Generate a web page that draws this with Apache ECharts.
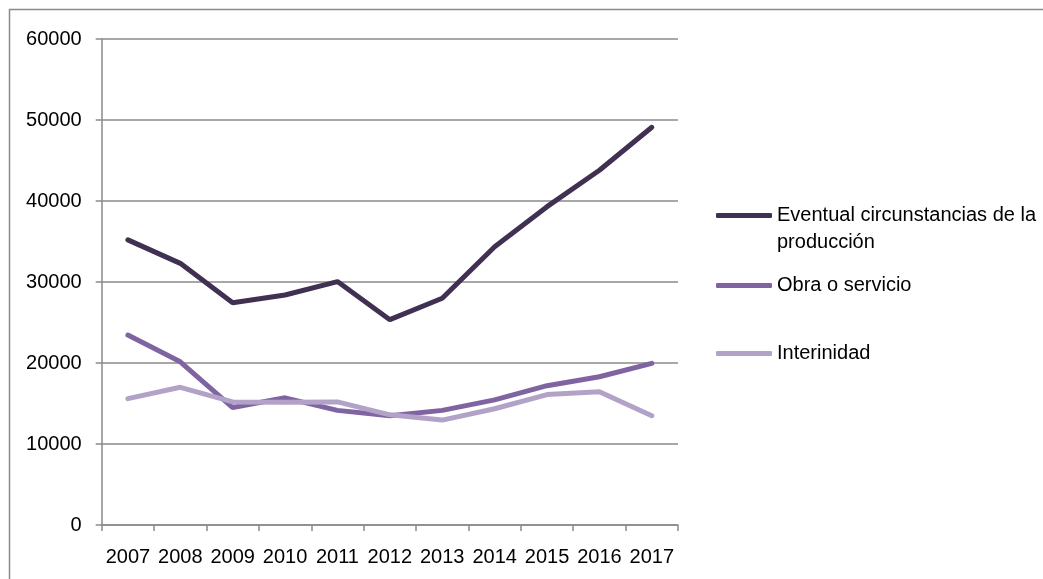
<!DOCTYPE html>
<html>
<head>
<meta charset="utf-8">
<style>
  html, body { margin: 0; padding: 0; background: #ffffff; }
  #chart { width: 1043px; height: 579px; }
</style>
<script src="https://cdn.jsdelivr.net/npm/echarts@6/dist/echarts.min.js"></script>
</head>
<body>
<div id="chart"></div>
<script>
// Contratos temporales por modalidad, 2007-2017
const years = ['2007', '2008', '2009', '2010', '2011', '2012', '2013', '2014', '2015', '2016', '2017'];
const eventual = [35200, 32300, 27450, 28400, 30050, 25350, 28000, 34350, 39300, 43800, 49100];
const obra = [23450, 20150, 14500, 15700, 14150, 13500, 14150, 15450, 17200, 18300, 19950];
const interinidad = [15600, 17000, 15200, 15150, 15200, 13600, 12950, 14350, 16100, 16450, 13500];
const yTicks = { min: 0, max: 60000, interval: 10000 };

const names = ['Eventual circunstancias de la producción', 'Obra o servicio', 'Interinidad'];
const colors = ['#403152', '#8064A2', '#B3A2C7'];
const font = 'Liberation Sans, Arial, sans-serif';
const gray = '#8a8a8a';

const chart = echarts.init(document.getElementById('chart'), null, { renderer: 'canvas' });

// One legend block per series so each entry can sit at its own height.
// The first entry wraps onto two lines; an empty leading line keeps the
// key line level with the first line of text.
function legendFor(i, top) {
  return {
    data: [names[i]],
    left: 716,
    top: top,
    padding: 0,
    icon: 'roundRect',
    itemWidth: 56,
    itemHeight: 5,
    selectedMode: false,
    formatter: i === 0 ? ' \nEventual circunstancias de la\nproducción' : '{name}',
    textStyle: {
      fontFamily: font,
      fontSize: 20,
      color: '#000000',
      lineHeight: 27
    }
  };
}

chart.setOption({
  animation: false,
  color: colors,
  grid: { left: 101.7, right: 365, top: 39, bottom: 54, containLabel: false },
  graphic: [{
    type: 'rect',
    shape: { x: 9.5, y: 9.5, width: 1200, height: 800 },
    style: { fill: 'none', stroke: gray, lineWidth: 1.5 },
    silent: true
  }],
  legend: [legendFor(0, 175), legendFor(1, 272), legendFor(2, 340)],
  xAxis: {
    type: 'category',
    data: years,
    boundaryGap: true,
    axisLine: { lineStyle: { color: gray, width: 1.5 } },
    axisTick: { show: true, length: 6, lineStyle: { color: gray, width: 1.5 } },
    axisLabel: { color: '#000000', fontFamily: font, fontSize: 20, margin: 22, interval: 0 },
    splitLine: { show: false }
  },
  yAxis: {
    type: 'value',
    min: yTicks.min,
    max: yTicks.max,
    interval: yTicks.interval,
    axisLine: { show: true, lineStyle: { color: gray, width: 1.5 } },
    axisTick: { show: true, length: 6, lineStyle: { color: gray, width: 1.5 } },
    axisLabel: { color: '#000000', fontFamily: font, fontSize: 20, margin: 20, formatter: v => String(v) },
    splitLine: { show: true, lineStyle: { color: gray, width: 1.5 } }
  },
  series: [
    { name: names[0], type: 'line', data: eventual, symbol: 'none', lineStyle: { width: 5, color: colors[0], cap: 'round' } },
    { name: names[1], type: 'line', data: obra, symbol: 'none', lineStyle: { width: 5, color: colors[1], cap: 'round' } },
    { name: names[2], type: 'line', data: interinidad, symbol: 'none', lineStyle: { width: 5, color: colors[2], cap: 'round' } }
  ]
});
</script>
</body>
</html>
